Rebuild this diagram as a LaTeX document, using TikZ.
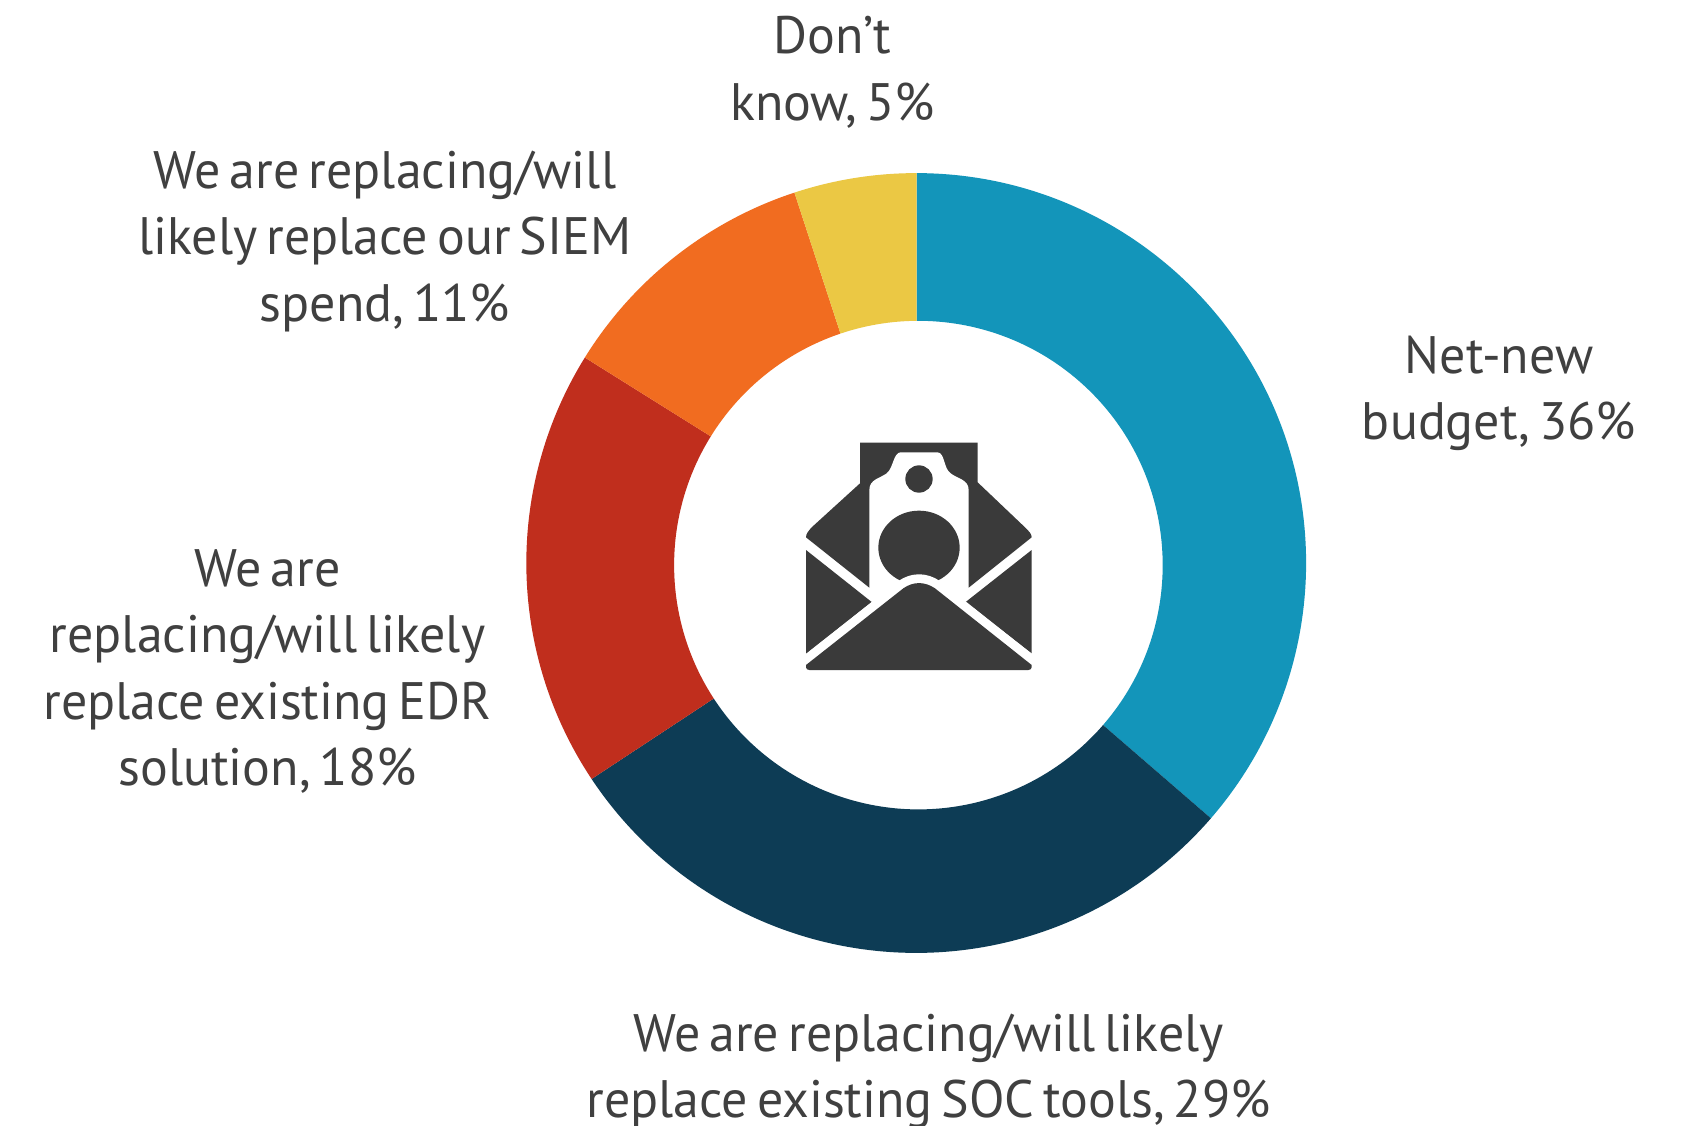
\documentclass[tikz,border=0pt]{standalone}
\usepackage{fontspec}
\setmainfont[WordSpace=0.65,FakeStretch=0.985]{PT Sans}
\definecolor{cblue}{HTML}{1395BA}
\definecolor{cnavy}{HTML}{0D3C55}
\definecolor{cred}{HTML}{C02E1D}
\definecolor{corange}{HTML}{F16C20}
\definecolor{cyellow}{HTML}{EBC844}
\definecolor{ctext}{HTML}{404040}
\definecolor{cicon}{HTML}{3A3A3A}
\newcommand{\lbl}[1]{\begin{tabular}[t]{@{}c@{}}#1\end{tabular}}
% colour, outer start, outer end, inner start, inner end
\newcommand{\seg}[5]{\fill[#1] ([shift={(916.2,563)}]#2:389.9) arc[start angle=#2,end angle=#3,radius=389.9] -- ([shift={(918.4,565.1)}]#5:244.3) arc[start angle=#5,end angle=#4,radius=244.3] -- cycle;}
\tikzset{lab/.style={anchor=base,inner sep=0pt,text=ctext,font=\fontsize{30}{37.7}\selectfont},
 ink/.style={fill=cicon,draw=none}}
\begin{document}
\begin{tikzpicture}[x=0.02cm,y=0.02cm,yscale=-1]
\useasboundingbox (0,0) rectangle (1691,1126);
\fill[white] (0,0) rectangle (1691,1126);
\seg{cblue}{-89.93}{40.9}{-90.4}{40.9}
\seg{cnavy}{40.9}{146.36}{40.9}{146.9}
\seg{cred}{146.36}{211.8}{146.9}{211.8}
\seg{corange}{211.8}{251.8}{211.8}{251.4}
\seg{cyellow}{251.8}{270.07}{251.4}{269.6}
\begin{scope}[shift={(780,420)},scale=1/3]
 \fill[ink] (240,68) -- (593,68) -- (593,187) -- (735,322) .. controls (748,335) and (755,342) .. (755,352) -- (566,503) -- (268,503) -- (78,352) .. controls (78,342) and (85,333) .. (95,322) -- (240,190) -- cycle;
 \fill[white] (268,515) -- (268,210) .. controls (268,178) and (300,175) .. (320,160) .. controls (340,145) and (340,97) .. (362,97) -- (472,97) .. controls (495,97) and (490,145) .. (512,160) .. controls (530,175) and (566,178) .. (566,210) -- (566,515) -- cycle;
 \fill[ink] (417,177) circle[radius=41];
 \fill[ink] (417,383) ellipse[x radius=122,y radius=111];
 \fill[ink] (78,390) -- (275,546) -- (78,702) -- cycle;
 \fill[ink] (755,390) -- (557,546) -- (755,700) -- cycle;
 \fill[ink,draw=white,line width=10pt,line join=round] (78,735) -- (370,505) .. controls (400,484) and (434,484) .. (465,505) -- (755,735) -- (755,742) .. controls (755,747) and (750,750) .. (745,750) -- (88,750) .. controls (83,750) and (78,747) .. (78,742) -- cycle;
 \fill[ink] (78,735) -- (370,505) .. controls (400,484) and (434,484) .. (465,505) -- (755,735) -- (755,742) .. controls (755,747) and (750,750) .. (745,750) -- (88,750) .. controls (83,750) and (78,747) .. (78,742) -- cycle;
\end{scope}
\node[lab] (dk) at (832.6,53.9) {\lbl{Don’t\\know, 5\%}};
\node[lab] (siem) at (385,188.7) {\lbl{We are replacing/will\\likely replace our SIEM\\spend, 11\%}};
\node[lab] (net) at (1499,373.2) {\lbl{Net-new\\budget, 36\%}};
\node[lab] (edr) at (267.5,586.7) {\lbl{We are\\replacing/will likely\\replace existing EDR\\solution, 18\%}};
\node[lab] (soc) at (928.6,1051.5) {\lbl{We are replacing/will likely\\replace existing SOC tools, 29\%}};
\end{tikzpicture}
\end{document}
